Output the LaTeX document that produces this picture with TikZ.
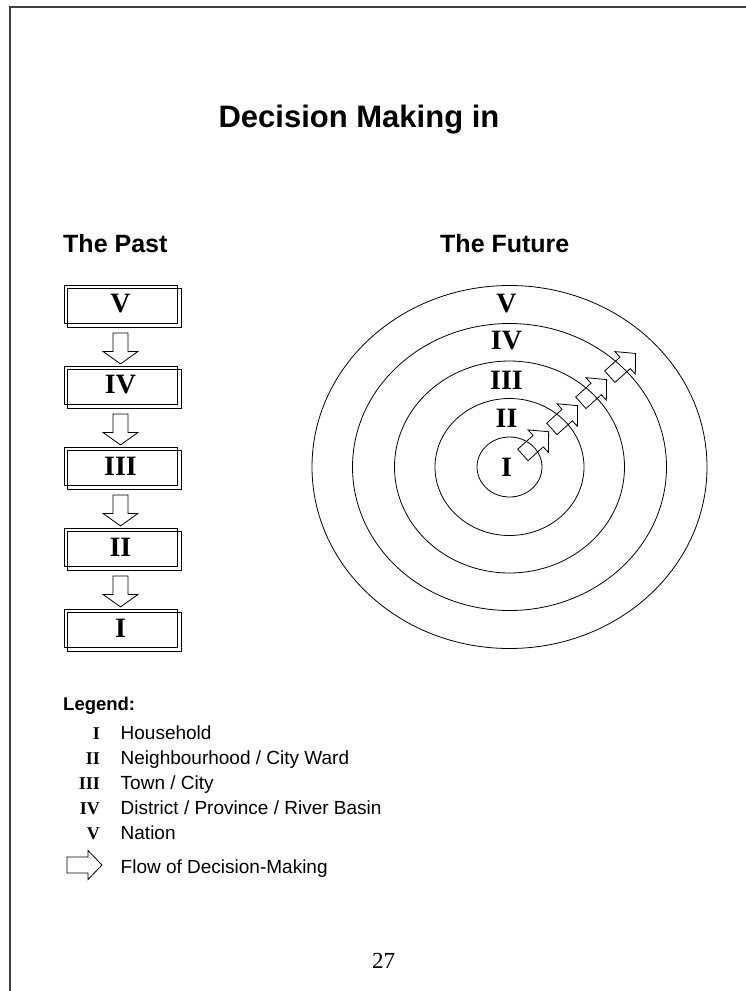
\documentclass[tikz,border=0pt]{standalone}
\usepackage{fontspec}
\setmainfont{Liberation Serif}
\setsansfont{Liberation Sans}
\usetikzlibrary{calc,positioning}

\begin{document}
\begin{tikzpicture}[
    x=1pt,y=1pt,
    lvl/.style={rectangle,draw=black,line width=0.8pt,minimum width=113pt,minimum height=38pt,inner sep=0pt,font=\fontsize{28}{32}\selectfont\bfseries},
    ring/.style={draw=black,line width=0.8pt},
    numeral/.style={inner sep=0pt,font=\fontsize{28}{32}\selectfont\bfseries},
    arrowline/.style={draw=black,line width=0.8pt,line join=miter},
    head/.style={font=\sffamily\bfseries\fontsize{25}{30}\selectfont,inner sep=0pt,anchor=base west},
    legnum/.style={font=\bfseries\fontsize{18}{21}\selectfont,inner sep=0pt,anchor=base east},
    legtext/.style={font=\sffamily\fontsize{19}{22}\selectfont,inner sep=0pt,anchor=base west},
    pics/blockarrow/.style n args={4}{code={
      \draw[arrowline] (0,-#2) -- (#1,-#2) -- (#1,-#4) -- ++(#3,#4) -- (#1,#4) -- (#1,#2) -- (0,#2) -- cycle;
    }}
  ]
  \useasboundingbox (0,0) rectangle (746,-991);
  \draw[line width=1.6pt,black!75] (10,-991) -- (10,-7) -- (746,-7);

  % headings
  \node[head,font=\sffamily\bfseries\fontsize{31}{36}\selectfont,anchor=base] (title) at (359,-127) {Decision Making in};
  \node[head] (past) at (63,-252) {The Past};
  \node[head] (future) at (440,-252) {The Future};

  % the past: stacked levels
  \foreach \lab [count=\i from 0] in {V,IV,III,II,I}
    \node[lvl] (p\i) at (120.5,-304-81*\i) {\lab};
  \foreach \i in {0,...,4}
    \draw[line width=0.8pt] ([shift={(3.5,-3.5)}]p\i.north west) rectangle ([shift={(3.5,-3.5)}]p\i.south east);
  \foreach \i in {0,...,3}
    \pic[rotate=-90] (down\i) at ($(p\i.south)+(0,-9.5)$) {blockarrow={18.5}{7.5}{12.5}{17.5}};

  % the future: nested rings
  \coordinate (ctr) at (509.5,-467);
  \foreach \rx/\ry in {32.5/30,74.5/68.5,115/106,157/143.5,197.5/181.5}
    \draw[ring] (ctr) ellipse [x radius=\rx, y radius=\ry];
  \foreach \lab/\y in {I/467,II/418,III/380,IV/341,V/304}
    \node[numeral] (f\lab) at (506.5,-\y) {\lab};
  \foreach \r [count=\i] in {18,57,96,135}
    \pic[rotate=42] (flow\i) at ($(ctr)+(42:\r)$) {blockarrow={20.6}{7.7}{14.1}{15.2}};

  % legend
  \node[head,font=\sffamily\bfseries\fontsize{18.5}{22}\selectfont] (legend) at (63,-710) {Legend:};
  \foreach \lab/\txt [count=\i from 0] in {I/Household,II/{Neighbourhood / City Ward},III/{Town / City},IV/{District / Province / River Basin},V/Nation}{
    \node[legnum] (n\i) at (100,-739-25*\i) {\lab};
    \node[legtext] (t\i) at (120.5,-739-25*\i) {\txt};
  }
  \pic (legarrow) at (67,-865) {blockarrow={21}{8}{14}{14.5}};
  \node[legtext] (tflow) at (120.5,-873) {Flow of Decision-Making};

  \node[font=\fontsize{23}{26}\selectfont,anchor=base,inner sep=0pt] (page) at (383.5,-968) {27};
\end{tikzpicture}
\end{document}
